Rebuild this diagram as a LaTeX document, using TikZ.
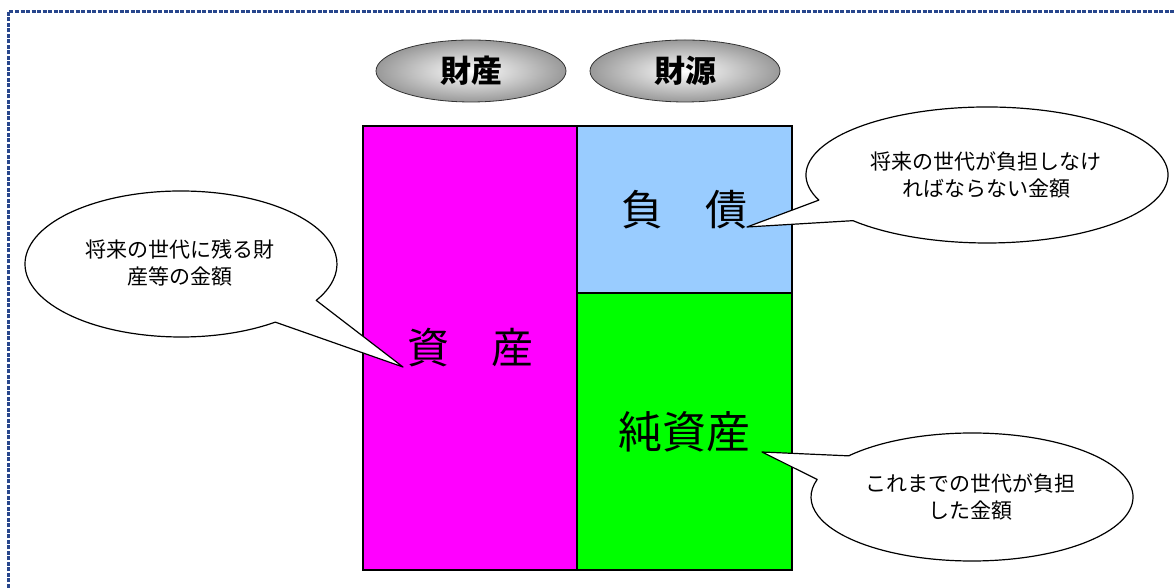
\documentclass[tikz,border=0pt]{standalone}
\usepackage{fontspec}
\setmainfont{Noto Sans CJK JP}
\usetikzlibrary{shapes.geometric}
\definecolor{framecol}{RGB}{40,70,140}
\definecolor{assetcol}{RGB}{255,0,255}
\definecolor{debtcol}{RGB}{153,204,255}
\definecolor{netcol}{RGB}{0,255,0}
\begin{document}
\begin{tikzpicture}[x=1pt,y=1pt,
  frameline/.style={draw=framecol,line width=3pt,dash pattern=on 4pt off 1.5pt},
  headoval/.style={ellipse,draw=black!80,line width=0.8pt,shading=radial,inner color=white,outer color=gray!80,minimum width=190pt,minimum height=62pt,inner sep=0pt,font=\fontsize{31}{34}\selectfont\bfseries},
  block/.style={rectangle,draw=black,line width=2.8pt,inner sep=0pt,font=\fontsize{42}{46}\selectfont},
  balloon/.style={draw=black,fill=white,line width=1.2pt,line join=round},
  btext/.style={align=center,inner sep=0pt,font=\fontsize{21}{27}\selectfont}
]
\useasboundingbox (0,0) rectangle (1174,588);
% frame
\coordinate (fa) at (8,0);
\coordinate (fb) at (8,576);
\coordinate (fc) at (1174,576);
\draw[frameline] (fa) -- (fb) -- (fc);

% header ovals
\node[headoval] (zaisan) at (471,517) {財産};
\node[headoval] (zaigen) at (685,517) {財源};

% blocks
\node[block,fill=assetcol,minimum width=214pt,minimum height=444pt] (shisan) at (470,240) {資　産};
\node[block,fill=debtcol,minimum width=215pt,minimum height=167pt] (fusai) at (684.5,378.5) {負　債};
\node[block,fill=netcol,minimum width=215pt,minimum height=277pt] (junshisan) at (684.5,156.5) {\fontsize{44}{48}\selectfont 純資産};

% balloon 1
\coordinate (t1) at (403,221);
\path (181,324) ++(-52.8:156pt and 73pt) coordinate (b1);
\draw[balloon] (t1) -- (b1) arc[start angle=-52.8,end angle=-389.9,x radius=156pt,y radius=73pt] -- cycle;
\node[btext] (c1) at (180,325) {将来の世代に残る財\\産等の金額};

% balloon 2
\coordinate (t2) at (747,361);
\path (987,413) ++(-158.3:181pt and 68pt) coordinate (b2);
\draw[balloon] (t2) -- (b2) arc[start angle=-158.3,end angle=-497.8,x radius=181pt,y radius=68pt] -- cycle;
\node[btext] (c2) at (986,413) {将来の世代が負担しなけ\\ればならない金額};

% balloon 3
\coordinate (t3) at (762,136);
\path (972,91) ++(-220:161pt and 64pt) coordinate (b3);
\draw[balloon] (t3) -- (b3) arc[start angle=-220,end angle=-555.9,x radius=161pt,y radius=64pt] -- cycle;
\node[btext] (c3) at (970,91) {これまでの世代が負担\\した金額};
\end{tikzpicture}
\end{document}
